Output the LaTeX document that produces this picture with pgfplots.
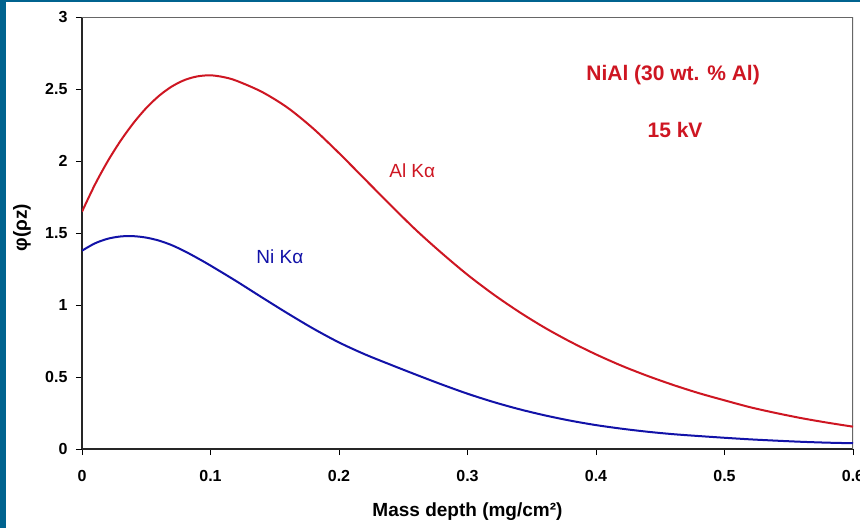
\documentclass[border=0pt]{standalone}
\usepackage{fontspec}
\setmainfont{Liberation Sans}
\usepackage{pgfplots}
\pgfplotsset{compat=1.18}
\definecolor{frameteal}{RGB}{0,99,143}
\definecolor{alred}{RGB}{206,22,34}
\definecolor{niblue}{RGB}{18,18,168}
\begin{document}
\begin{tikzpicture}[x=1pt,y=1pt]
\path[use as bounding box] (0,0) rectangle (860,528);
\fill[frameteal] (0,0) rectangle (860,528);
\fill[white] (6,0) rectangle (860,526);
\begin{axis}[at={(82pt,79pt)},anchor=south west,scale only axis,
width=771pt,height=432pt,
xmin=0,xmax=0.6,ymin=0,ymax=3,
axis lines=left,axis line style={-,line width=1.3pt,black!85},
tick align=outside,major tick length=6pt,tick style={black,line width=1pt},
xtick={0,0.1,0.2,0.3,0.4,0.5,0.6},ytick={0,0.5,1,1.5,2,2.5,3},
/pgf/number format/assume math mode=true,
/pgf/number format/fixed,
ticklabel style={font=\bfseries\fontsize{16}{16}\selectfont},
xticklabel style={yshift=-12pt},
yticklabel style={xshift=-5pt},
xlabel={\bfseries Mass depth (mg/cm²)},
ylabel={\bfseries φ(ρz)},
label style={font=\fontsize{19}{19}\selectfont},
every axis x label/.append style={at={(axis description cs:0.5,-0.157)},anchor=base},
every axis y label/.append style={at={(axis description cs:-0.078,0.512)},anchor=center},
]
\draw[black!60,line width=1.3pt] (rel axis cs:0,1) -- (rel axis cs:1,1) -- (rel axis cs:1,0);
\addplot[alred,line width=2pt,smooth] table {
x y
0.000 1.648
0.010 1.835
0.020 1.998
0.030 2.140
0.040 2.263
0.050 2.368
0.060 2.453
0.070 2.518
0.080 2.563
0.090 2.588
0.100 2.595
0.110 2.583
0.120 2.558
0.140 2.480
0.160 2.370
0.180 2.225
0.200 2.055
0.220 1.875
0.240 1.695
0.260 1.520
0.280 1.360
0.300 1.210
0.320 1.075
0.340 0.953
0.360 0.843
0.380 0.745
0.400 0.657
0.420 0.578
0.440 0.508
0.460 0.445
0.480 0.388
0.500 0.338
0.520 0.290
0.540 0.250
0.560 0.214
0.580 0.183
0.600 0.155
};
\addplot[niblue,line width=2pt,smooth] table {
x y
0.000 1.377
0.010 1.428
0.020 1.460
0.030 1.476
0.040 1.478
0.050 1.468
0.060 1.447
0.070 1.415
0.080 1.373
0.090 1.325
0.100 1.274
0.120 1.166
0.140 1.053
0.160 0.942
0.180 0.836
0.200 0.740
0.220 0.658
0.240 0.586
0.260 0.516
0.280 0.448
0.300 0.384
0.320 0.327
0.340 0.277
0.360 0.234
0.380 0.197
0.400 0.166
0.420 0.141
0.440 0.120
0.460 0.103
0.480 0.090
0.500 0.078
0.520 0.067
0.540 0.058
0.560 0.050
0.580 0.044
0.600 0.040
};
\node[alred,font=\bfseries\fontsize{21}{21}\selectfont] at (axis cs:0.46,2.597) {NiAl (30 wt. \% Al)};
\node[alred,font=\bfseries\fontsize{21}{21}\selectfont] at (axis cs:0.4615,2.215) {15 kV};
\node[alred,font=\fontsize{19}{19}\selectfont] at (axis cs:0.257,1.93) {Al Kα};
\node[niblue,font=\fontsize{19}{19}\selectfont] at (axis cs:0.154,1.333) {Ni Kα};
\end{axis}
\end{tikzpicture}
\end{document}
